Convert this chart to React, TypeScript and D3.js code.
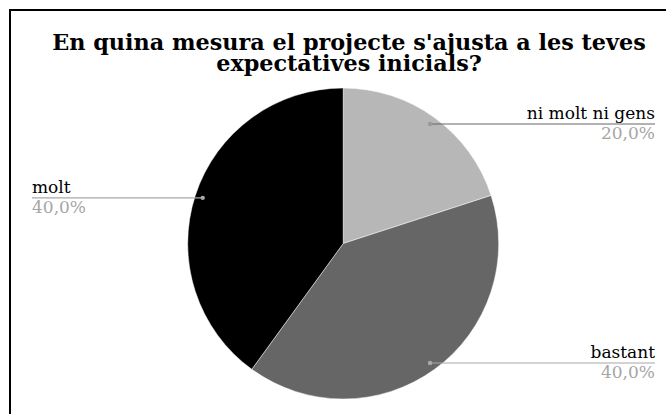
import React from "react";
import * as d3 from "d3";

const title = ["En quina mesura el projecte s'ajusta a les teves", "expectatives inicials?"];
const categories = ["ni molt ni gens", "bastant", "molt"];
const values = [20, 40, 40];
const colors = ["#b7b7b7", "#666666", "#000000"];
const lineColors = ["#666666", "#a8a8a8", "#a8a8a8"];
const labelSide = ["right", "right", "left"];

export default function App() {
  const W = 666, H = 414;
  const cx = 343.2, cy = 243.5, R = 155.5;
  const pie = d3.pie<number>().sort(null).value(d => d)(values);
  const arc = d3.arc<d3.PieArcDatum<number>>().innerRadius(0).outerRadius(R);
  const dotArc = d3.arc<d3.PieArcDatum<number>>().innerRadius(R * 0.95).outerRadius(R * 0.95);
  const total = d3.sum(values);
  const fmt = (v: number) => (v / total * 100).toFixed(1).replace(".", ",") + "%";
  const tx = 349;
  return (
    <svg width={W} height={H} style={{ position: "absolute", left: 0, top: 0 }}>
      <rect x={0} y={0} width={W} height={H} fill="#fff" />
      <rect x={10} y={10} width={W} height={H} fill="#fff" stroke="#000" strokeWidth={2} />
      <text textAnchor="middle" fontFamily="DejaVu Serif" fontWeight="bold" fontSize={22.3} fill="#000">
        <tspan x={tx} y={50}>{title[0]}</tspan>
        <tspan x={tx} y={71}>{title[1]}</tspan>
      </text>
      <g transform={`translate(${cx},${cy})`}>
        {pie.map((p, i) => (
          <path key={i} d={arc(p) || ""} fill={colors[i]} stroke="#fff" strokeWidth={0.5} />
        ))}
      </g>
      {pie.map((p, i) => {
        const [dx, dy] = dotArc.centroid(p);
        const px = cx + dx, py = cy + dy;
        const right = labelSide[i] === "right";
        const ex = right ? 655 : 32;
        return (
          <g key={"l" + i}>
            <line x1={px} y1={py} x2={ex} y2={py} stroke={lineColors[i]} strokeWidth={1.2} />
            <circle cx={px} cy={py} r={2.2} fill={i === 0 ? "#999" : "#a8a8a8"} />
            <text x={ex} y={py - 5} textAnchor={right ? "end" : "start"} fontFamily="DejaVu Serif" fontSize={17} fill="#000">{categories[i]}</text>
            <text x={ex} y={py + 15} textAnchor={right ? "end" : "start"} fontFamily="DejaVu Serif" fontSize={17} fill="#a6a6a6">{fmt(values[i])}</text>
          </g>
        );
      })}
    </svg>
  );
}
